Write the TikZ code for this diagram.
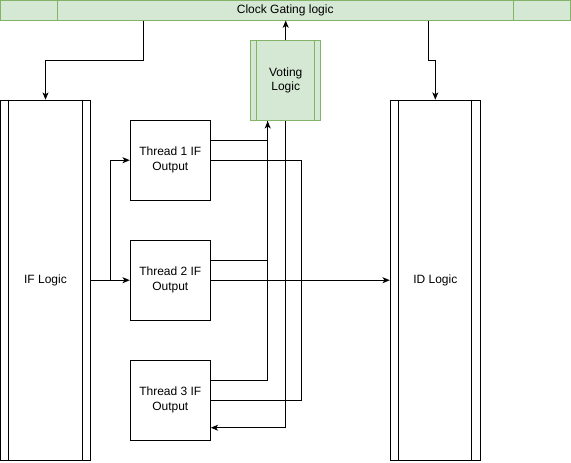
\documentclass[tikz,border=0pt]{standalone}
\usepackage{fontspec}
\setmainfont{Liberation Sans}
\usetikzlibrary{arrows.meta,calc}
\definecolor{gfill}{HTML}{D5E8D4}
\definecolor{gline}{HTML}{82B366}
\begin{document}
\begin{tikzpicture}[x=0.75pt,y=-0.75pt,
  font=\fontsize{9}{11}\selectfont,
  blk/.style={draw=black,line width=0.75pt,fill=white,inner sep=0pt,align=center},
  gblk/.style={draw=gline,line width=0.75pt,fill=gfill,inner sep=0pt,align=center},
  arr/.style={draw=black,line width=0.75pt,-{Stealth[length=5.5pt,width=4.5pt,inset=1.5pt]}},
  conn/.style={draw=black,line width=0.75pt}]
\useasboundingbox (0,0) rectangle (571,462);
% clock gating bar
\node[gblk,minimum width=569.5*0.75pt,minimum height=19.5*0.75pt] (cg) at (285.25,10.25) {Clock Gating logic};
\draw[gline,line width=0.75pt] ($(cg.north west)+(57.5,0)$) -- ($(cg.south west)+(57.5,0)$);
\draw[gline,line width=0.75pt] ($(cg.north east)+(-57,0)$) -- ($(cg.south east)+(-57,0)$);
% IF logic
\node[blk,minimum width=89.6*0.75pt,minimum height=360*0.75pt] (if) at (45.5,280.2) {IF Logic};
\draw[line width=0.75pt] ($(if.north west)+(8.6,0)$) -- ($(if.south west)+(8.6,0)$);
\draw[line width=0.75pt] ($(if.north east)+(-8.6,0)$) -- ($(if.south east)+(-8.6,0)$);
% ID logic
\node[blk,minimum width=90*0.75pt,minimum height=360*0.75pt] (id) at (435.3,280.2) {ID Logic};
\draw[line width=0.75pt] ($(id.north west)+(9,0)$) -- ($(id.south west)+(9,0)$);
\draw[line width=0.75pt] ($(id.north east)+(-9,0)$) -- ($(id.south east)+(-9,0)$);
% threads
\node[blk,minimum width=80*0.75pt,minimum height=80*0.75pt] (t1) at (170.3,160.2) {Thread 1 IF\\Output};
\node[blk,minimum width=80*0.75pt,minimum height=80*0.75pt] (t2) at (170.3,280.2) {Thread 2 IF\\Output};
\node[blk,minimum width=80*0.75pt,minimum height=80*0.75pt] (t3) at (170.3,400.2) {Thread 3 IF\\Output};
% voting
\node[gblk,minimum width=70*0.75pt,minimum height=80.5*0.75pt] (vote) at (285.7,80.4) {Voting\\Logic};
\draw[gline,line width=0.75pt] ($(vote.north west)+(6.7,0)$) -- ($(vote.south west)+(6.7,0)$);
\draw[gline,line width=0.75pt] ($(vote.north east)+(-7,0)$) -- ($(vote.south east)+(-7,0)$);
% helper coordinates
\coordinate (vin) at ($(vote.south west)+(17.5,0)$);
\coordinate (j) at (301,280.2);
% connectors
\draw[arr] ($(cg.south west)+(143,0)$) -- ++(0,40) -| (if.north);
\draw[arr] ($(cg.south west)+(428,0)$) -- ++(0,40) -| (id.north);
\draw[arr] (vote.north) -- (vote.north |- cg.south);
\draw[arr] (if.east) -- ++(19.7,0) |- (t1.west);
\draw[arr] (if.east) -- (t2.west);
\draw[conn] ($(t1.east)+(0,-20)$) -| (vin);
\draw[conn] ($(t2.east)+(0,-20)$) -| (vin);
\draw[arr] ($(t3.east)+(0,-20)$) -| (vin);
\draw[conn] (t1.east) -| (j);
\draw[conn] (t3.east) -| (j);
\draw[arr] (t2.east) -- (t2.east -| id.west);
\draw[arr] (vote.south) |- ($(t3.east)+(0,27.5)$);
\end{tikzpicture}
\end{document}
